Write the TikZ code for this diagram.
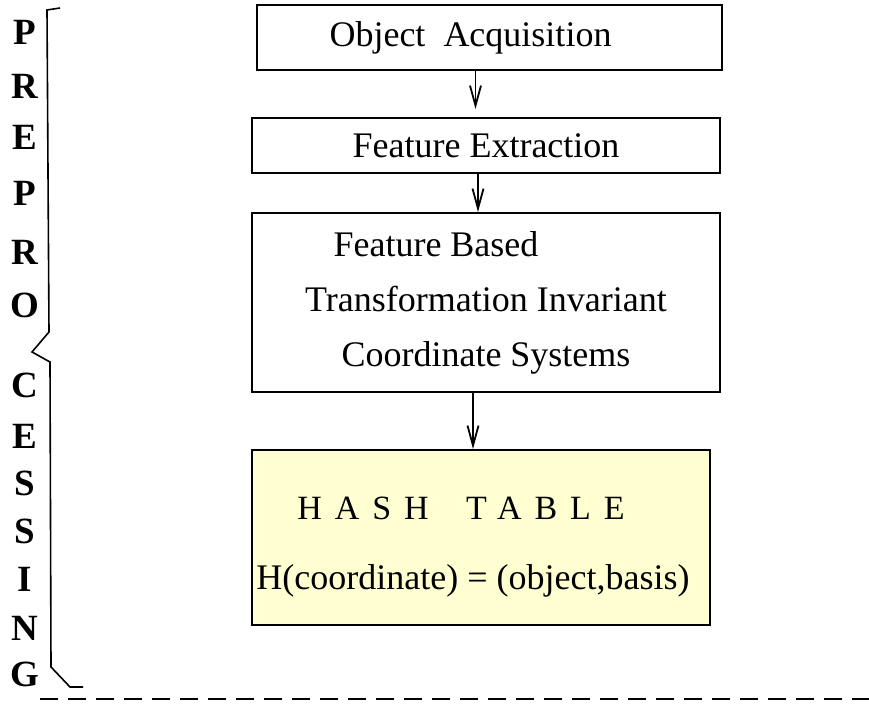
\documentclass[tikz,border=0pt]{standalone}
\usepackage{fontspec}
\setmainfont{Liberation Serif}
\newfontfamily\espacee[LetterSpace=38]{Liberation Serif}
\usetikzlibrary{arrows.meta}
\definecolor{jaunepale}{HTML}{FFFFD2}

\begin{document}
\begin{tikzpicture}[x=0.5pt, y=-0.5pt]
\tikzset{boite/.style={draw, line width=1pt, inner sep=0pt, font=\fontsize{18}{27.5}\selectfont, align=center},
         lettre/.style={font=\fontsize{18.5}{18.5}\selectfont\bfseries, inner sep=0pt},
         fleche/.style={line width=0.9pt, -{Straight Barb[length=10pt, width=5.5pt]}}}
\useasboundingbox (0,0) rectangle (869,710);
% the four stages
\node[boite, minimum width=232.5pt, minimum height=32.5pt] (B1) at (489.5,37.5) {Object\ \ Acquisition\hspace*{19pt}};
\node[boite, minimum width=234pt, minimum height=27.5pt] (B2) at (486,145.5) {Feature Extraction};
\node[boite, minimum width=234pt, minimum height=89.5pt] (B3) at (486,302.5) {Feature Based\hspace*{50pt}\\ Transformation Invariant\\ Coordinate Systems};
\node[boite, fill=jaunepale, minimum width=229pt, minimum height=87.5pt] (B4) at (481,537.5) {};
\node[font=\fontsize{17}{17}\selectfont] (T1) at (461,508) {\espacee HASH\hspace{1.1em}TABLE};
\node[font=\fontsize{18}{18}\selectfont] (T2) at (473,581) {H(coordinate) = (object,basis)};
\draw[fleche, shorten >=4pt] ([xshift=-7pt]B1.south) -- ([xshift=-7pt]B1.south |- B2.north);
\draw[fleche] ([xshift=-4pt]B2.south) -- ([xshift=-4pt]B2.south |- B3.north);
\draw[fleche] ([xshift=-6.5pt]B3.south) -- ([xshift=-6.5pt]B3.south |- B4.north);
% vertical label with its brace
\node[lettre] (L1) at (25,32) {P};
\node[lettre] (L2) at (25,86) {R};
\node[lettre] (L3) at (25,137) {E};
\node[lettre] (L4) at (25,193) {P};
\node[lettre] (L5) at (25,252) {R};
\node[lettre] (L6) at (25,305) {O};
\node[lettre] (L7) at (25,385) {C};
\node[lettre] (L8) at (25,436) {E};
\node[lettre] (L9) at (25,483) {S};
\node[lettre] (L10) at (25,531) {S};
\node[lettre] (L11) at (25,579) {I};
\node[lettre] (L12) at (25,628) {N};
\node[lettre] (L13) at (25,674) {G};
\draw[line width=0.8pt] (60,8) -- (47,10) -- (49,332) -- (32,352) -- (50,362) -- (51,667) -- (70,687) -- (83,687);
\draw[line width=1pt, dash pattern=on 9pt off 5pt] (40,699) -- (869,699);
\end{tikzpicture}
\end{document}
